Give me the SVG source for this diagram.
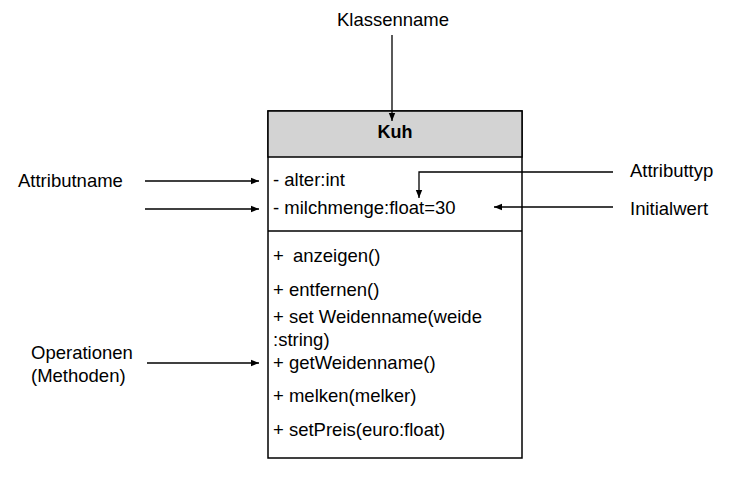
<svg xmlns="http://www.w3.org/2000/svg" width="750" height="479" viewBox="0 0 750 479">
<style>
text{font-family:"Liberation Sans",Arial,sans-serif;font-size:18.5px;fill:#000}
.b{font-weight:bold;font-size:18px}
.c{stroke:#000;stroke-width:1.3;fill:none}
</style>
<defs>
<marker id="ah" markerWidth="8" markerHeight="8" refX="8" refY="4" orient="auto" markerUnits="userSpaceOnUse">
<path d="M0,0.8 L8,4 L0,7.2 Z" fill="#000"/>
</marker>
</defs>
<rect width="750" height="479" fill="#fff"/>
<g id="kuh">
<rect x="268" y="111" width="254" height="347" fill="#fff" stroke="#000" stroke-width="1.5"/>
<rect x="268" y="111" width="254" height="46" fill="#d3d3d3" stroke="#000" stroke-width="1.5"/>
<line x1="268" y1="231" x2="522" y2="231" stroke="#000" stroke-width="1.5"/>
<text class="b" x="395" y="138" text-anchor="middle">Kuh</text>
<text x="273" y="186">- alter:int</text>
<text x="273" y="214">- milchmenge:float=30</text>
<text x="273" y="262">+ <tspan dx="4">anzeigen()</tspan></text>
<text x="273" y="296">+ entfernen()</text>
<text x="273" y="323">+ set Weidenname(weide</text>
<text x="273" y="346">:string)</text>
<text x="273" y="369">+ getWeidenname()</text>
<text x="273" y="402">+ melken(melker)</text>
<text x="273" y="436">+ setPreis(euro:float)</text>
</g>
<g id="label-klassenname"><text x="393" y="26" text-anchor="middle">Klassenname</text></g>
<g id="label-attributname"><text x="18" y="187">Attributname</text></g>
<g id="label-attributtyp"><text x="630" y="177">Attributtyp</text></g>
<g id="label-initialwert"><text x="630" y="215">Initialwert</text></g>
<g id="label-operationen"><text x="31" y="359">Operationen</text><text x="31" y="382">(Methoden)</text></g>
<g id="connectors">
<line class="c" x1="392" y1="35" x2="392" y2="121" marker-end="url(#ah)"/>
<line class="c" x1="145" y1="181" x2="259" y2="181" marker-end="url(#ah)"/>
<line class="c" x1="145" y1="209" x2="259" y2="209" marker-end="url(#ah)"/>
<polyline class="c" points="613,172 419,172 419,198" marker-end="url(#ah)"/>
<line class="c" x1="613" y1="207" x2="494" y2="207" marker-end="url(#ah)"/>
<line class="c" x1="147" y1="363" x2="259" y2="363" marker-end="url(#ah)"/>
</g>
</svg>
